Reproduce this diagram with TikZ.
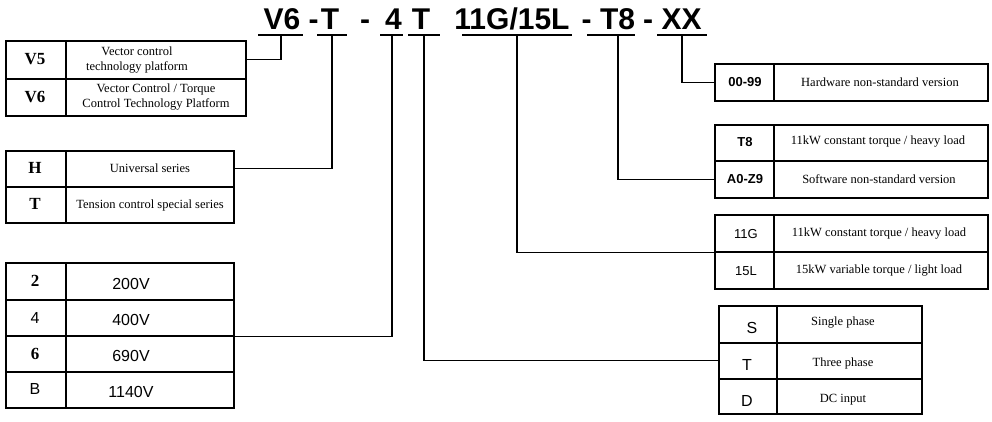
\documentclass[tikz,border=0pt]{standalone}
\usepackage{fontspec}
\setmainfont{Liberation Serif}
\newfontfamily\arial{Liberation Sans}
\begin{document}
\begin{tikzpicture}[x=1pt,y=-1pt,
  cell/.style={draw, line width=1.5pt, inner sep=0pt, anchor=north west},
  conn/.style={draw, line width=1.4pt},
  uline/.style={draw, line width=1.8pt},
  ttl/.style={inner sep=0pt, anchor=base, font=\arial\bfseries\fontsize{30}{30}\selectfont},
  keyb/.style={inner sep=0pt, font=\bfseries\fontsize{17}{18}\selectfont},
  keys/.style={inner sep=0pt, font=\arial\fontsize{16}{18}\selectfont},
  keysb/.style={inner sep=0pt, font=\arial\bfseries\fontsize{13}{15}\selectfont},
  keysr/.style={inner sep=0pt, font=\arial\fontsize{13}{15}\selectfont},
  volt/.style={inner sep=0pt, font=\arial\fontsize{16}{18}\selectfont},
  desc/.style={inner sep=0pt, align=center, font=\fontsize{12.5}{15}\selectfont}]
\useasboundingbox[fill=white] (0,0) rectangle (992,421);

% ---- title ----
\node[ttl] (tV6) at (282,29) {V6};
\node[ttl] (tD1) at (313.5,29) {-};
\node[ttl] (tT1) at (330,29) {T};
\node[ttl] (tD2) at (365,29) {-};
\node[ttl] (t4) at (393.5,29) {4};
\node[ttl] (tT2) at (421,29) {T};
\node[ttl] (t11) at (512,29) {11G/15L};
\node[ttl] (tD3) at (586.5,29) {-};
\node[ttl] (tT8) at (617.5,29) {T8};
\node[ttl] (tD4) at (648,29) {-};
\node[ttl] (tXX) at (681.5,29) {XX};

\draw[uline] (258,35) -- (303,35);
\draw[uline] (317,35) -- (347,35);
\draw[uline] (380,35) -- (403,35);
\draw[uline] (408,35) -- (440,35);
\draw[uline] (462,35) -- (572,35);
\draw[uline] (587,35) -- (635,35);
\draw[uline] (657,35) -- (707,35);
\coordinate (uV6) at (281,35);
\coordinate (uT1) at (332,35);
\coordinate (u4) at (392,35);
\coordinate (uT2) at (424,35);
\coordinate (u11) at (517,35);
\coordinate (uT8) at (618,35);
\coordinate (uXX) at (682,35);

% ---- table A: V5/V6 ----
\node[cell, minimum width=60pt, minimum height=38pt] (aV5k) at (5,40) {};
\node[cell, minimum width=180pt, minimum height=38pt] (aV5d) at (65,40) {};
\node[cell, minimum width=60pt, minimum height=37pt] (aV6k) at (5,78) {};
\node[cell, minimum width=180pt, minimum height=37pt] (aV6d) at (65,78) {};
\node[keyb] (xV5) at (35,59) {V5};
\node[keyb] (xV6) at (35,97) {V6};
\node[desc] (yV5) at (137,60) {Vector control\\technology platform};
\node[desc] (yV6) at (156,97) {Vector Control / Torque\\Control Technology Platform};

% ---- table B: H/T ----
\node[cell, minimum width=60pt, minimum height=36pt] (bHk) at (5,150) {};
\node[cell, minimum width=168pt, minimum height=36pt] (bHd) at (65,150) {};
\node[cell, minimum width=60pt, minimum height=36pt] (bTk) at (5,186) {};
\node[cell, minimum width=168pt, minimum height=36pt] (bTd) at (65,186) {};
\node[keyb] (xH) at (35,168) {H};
\node[keyb] (xT) at (35,204) {T};
\node[desc] (yH) at (150,168) {Universal series};
\node[desc] (yT) at (150,205) {Tension control special series};

% ---- table C: voltage ----
\node[cell, minimum width=60pt, minimum height=37pt] (c2k) at (5,262) {};
\node[cell, minimum width=168pt, minimum height=37pt] (c2d) at (65,262) {};
\node[cell, minimum width=60pt, minimum height=36pt] (c4k) at (5,299) {};
\node[cell, minimum width=168pt, minimum height=36pt] (c4d) at (65,299) {};
\node[cell, minimum width=60pt, minimum height=36pt] (c6k) at (5,335) {};
\node[cell, minimum width=168pt, minimum height=36pt] (c6d) at (65,335) {};
\node[cell, minimum width=60pt, minimum height=36pt] (cBk) at (5,371) {};
\node[cell, minimum width=168pt, minimum height=36pt] (cBd) at (65,371) {};
\node[keyb] (x2) at (35,281) {2};
\node[keys] (x4) at (35,318) {4};
\node[keyb] (x6) at (35,354) {6};
\node[keys] (xB) at (35,389) {B};
\node[volt] (y2) at (131,284) {200V};
\node[volt] (y4) at (131,320) {400V};
\node[volt] (y6) at (131,356) {690V};
\node[volt] (yB) at (131,392) {1140V};

% ---- table D: 00-99 ----
\node[cell, minimum width=59pt, minimum height=37pt] (d00k) at (714,63) {};
\node[cell, minimum width=214pt, minimum height=37pt] (d00d) at (773,63) {};
\node[keysb] (x00) at (745,82) {00-99};
\node[desc] (y00) at (880,82) {Hardware non-standard version};

% ---- table E: T8 / A0-Z9 ----
\node[cell, minimum width=59pt, minimum height=36pt] (eT8k) at (714,124) {};
\node[cell, minimum width=214pt, minimum height=36pt] (eT8d) at (773,124) {};
\node[cell, minimum width=59pt, minimum height=37pt] (eA0k) at (714,160) {};
\node[cell, minimum width=214pt, minimum height=37pt] (eA0d) at (773,160) {};
\node[keysb] (xT8) at (745,142) {T8};
\node[keysb] (xA0) at (745,179) {A0-Z9};
\node[desc] (yT8) at (878,142) {11kW constant torque / heavy load};
\node[desc] (yA0) at (879,179) {Software non-standard version};

% ---- table F: 11G / 15L ----
\node[cell, minimum width=59pt, minimum height=37pt] (f11k) at (714,214) {};
\node[cell, minimum width=214pt, minimum height=37pt] (f11d) at (773,214) {};
\node[cell, minimum width=59pt, minimum height=37pt] (f15k) at (714,251) {};
\node[cell, minimum width=214pt, minimum height=37pt] (f15d) at (773,251) {};
\node[keysr] (x11) at (746,234) {11G};
\node[keysr] (x15) at (746,271) {15L};
\node[desc] (y11) at (879,234) {11kW constant torque / heavy load};
\node[desc] (y15) at (879,271) {15kW variable torque / light load};

% ---- table G: S/T/D ----
\node[cell, minimum width=58pt, minimum height=37pt] (gSk) at (718,305) {};
\node[cell, minimum width=145pt, minimum height=37pt] (gSd) at (776,305) {};
\node[cell, minimum width=58pt, minimum height=36pt] (gTk) at (718,342) {};
\node[cell, minimum width=145pt, minimum height=36pt] (gTd) at (776,342) {};
\node[cell, minimum width=58pt, minimum height=35pt] (gDk) at (718,378) {};
\node[cell, minimum width=145pt, minimum height=35pt] (gDd) at (776,378) {};
\node[volt] (xS) at (752,328) {S};
\node[volt] (xTp) at (747,365) {T};
\node[volt] (xD) at (747,401) {D};
\node[desc] (yS) at (843,323) {Single phase};
\node[desc] (yTp) at (843,363) {Three phase};
\node[desc] (yD) at (843,400) {DC input};

% ---- connectors ----
\draw[conn] (uV6) |- (aV5d.east);
\draw[conn] (uT1) |- (bHd.east);
\draw[conn] (u4) |- (c4d.south east);
\draw[conn] (uT2) |- (gTk.west);
\draw[conn] (u11) |- (f11k.south west);
\draw[conn] (uT8) |- (eA0k.west);
\draw[conn] (uXX) |- (d00k.west);
\end{tikzpicture}
\end{document}
